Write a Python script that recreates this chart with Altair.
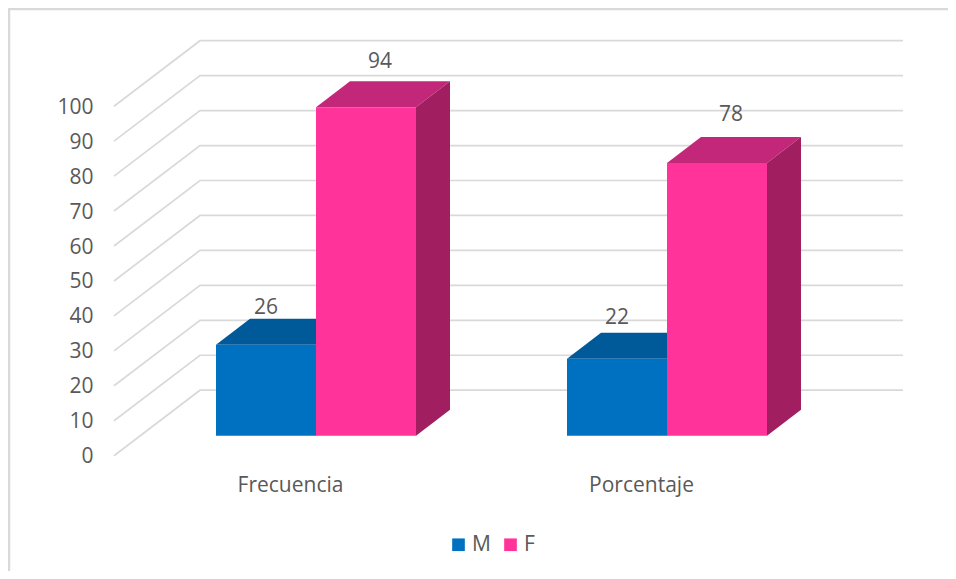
import altair as alt
import pandas as pd

CATEGORIES = ["Frecuencia", "Porcentaje"]
SERIES = ["M", "F"]
M_VALUES = [26, 22]
F_VALUES = [94, 78]
TICKS = [0, 10, 20, 30, 40, 50, 60, 70, 80, 90, 100]

# small gaps between a bar's top and its value label, in axis units
LABEL_LIFT = {"M": [10.4, 11.7], "F": [13.0, 13.7]}
LABEL_SHIFT = {"M": 0, "F": 14}

FONT = "Open Sans"
TEXT = "#595959"
GRID = "#d9d9d9"
FRONT = {"M": "#0070C0", "F": "#FF3399"}
TOP = {"M": "#005A99", "F": "#C2277A"}
SIDE = {"M": "#00497C", "F": "#A11F60"}

W, H = 940, 563
ORIGIN_Y = 447.7
UNIT = 3.495
GROUP_X = [316, 667]
BAR_W = 100
DEPTH_X = 34
DEPTH_V = 26 / UNIT
BASE_V = 20 / UNIT
WALL_V = 65.5 / UNIT
FLOOR_X0, WALL_X0, WALL_X1 = 114, 200, 903

X_SCALE = alt.Scale(domain=[8, 8 + W], range=[0, W], nice=False, zero=False)
Y_SCALE = alt.Scale(domain=[(ORIGIN_Y - H) / UNIT, ORIGIN_Y / UNIT], range=[H, 0], nice=False, zero=False)
Y_AXIS = alt.Axis(
    values=TICKS, domain=False, ticks=False, grid=False, offset=-85, labelPadding=0, title=None,
    labelFont=FONT, labelFontSize=21, labelColor=TEXT, labelOffset=1)

front_rows, top_rows, side_rows, label_rows = [], [], [], []
for c, cat in enumerate(CATEGORIES):
    for s, (name, vals) in enumerate(zip(SERIES, [M_VALUES, F_VALUES])):
        v = vals[c]
        a = GROUP_X[c] + (s - 1) * BAR_W
        b = a + BAR_W
        key = f"{cat}-{name}"
        front_rows.append(dict(series=name, a=a, b=b, lo=BASE_V, hi=BASE_V + v))
        top_v = BASE_V + v
        top_rows += [
            dict(key=key, fill=TOP[name], a=a, b=b, y=top_v),
            dict(key=key, fill=TOP[name], a=a + DEPTH_X, b=b + DEPTH_X, y=top_v + DEPTH_V),
        ]
        side_rows += [
            dict(key=key, fill=SIDE[name], x=b, lo=BASE_V, hi=top_v),
            dict(key=key, fill=SIDE[name], x=b + DEPTH_X, lo=BASE_V + DEPTH_V, hi=top_v + DEPTH_V),
        ]
        label_rows.append(dict(x=(a + b) / 2 + LABEL_SHIFT[name], y=top_v + LABEL_LIFT[name][c], text=str(v)))

grid_rows = []
for t in TICKS:
    grid_rows += [
        dict(tick=t, x=FLOOR_X0, y=t),
        dict(tick=t, x=WALL_X0, y=t + WALL_V),
        dict(tick=t, x=WALL_X1, y=t + WALL_V),
    ]

cat_rows = [dict(x=g - 25.5, y=-8.7, text=c) for g, c in zip(GROUP_X, CATEGORIES)]


def X(f):
    return alt.X(f, type="quantitative", scale=X_SCALE, axis=None)


def Y(f):
    return alt.Y(f, type="quantitative", scale=Y_SCALE, axis=Y_AXIS)


frame_left = alt.Chart(pd.DataFrame({"a": [0]})).mark_rule(color=GRID, strokeWidth=2.5).encode(
    x=alt.value(1), y=alt.value(0), y2=alt.value(H))
frame_top = alt.Chart(pd.DataFrame({"a": [0]})).mark_rule(color=GRID, strokeWidth=2.5).encode(
    y=alt.value(1), x=alt.value(0), x2=alt.value(W))

grid = alt.Chart(pd.DataFrame(grid_rows)).mark_line(color=GRID, strokeWidth=1.7).encode(
    x=X("x"), y=Y("y"), detail="tick:N", order="x:Q")

tops = alt.Chart(pd.DataFrame(top_rows)).mark_area(orient="horizontal").encode(
    x=X("a"), x2="b:Q", y=Y("y"), detail="key:N", fill=alt.Fill("fill:N", scale=None))

sides = alt.Chart(pd.DataFrame(side_rows)).mark_area(orient="vertical").encode(
    x=X("x"), y=Y("lo"), y2="hi:Q", detail="key:N", fill=alt.Fill("fill:N", scale=None))

fronts = alt.Chart(pd.DataFrame(front_rows)).mark_rect().encode(
    x=X("a"), x2="b:Q", y=Y("lo"), y2="hi:Q",
    color=alt.Color("series:N", sort=SERIES,
                    scale=alt.Scale(domain=SERIES, range=[FRONT[s] for s in SERIES]),
                    legend=alt.Legend(title=None, orient="none", legendX=440, legendY=526,
                                      direction="horizontal", symbolType="square", symbolSize=160,
                                      symbolStrokeWidth=0, labelFont=FONT, labelFontSize=21,
                                      labelColor=TEXT, columnPadding=9, labelOffset=3, padding=0)),
)

labels = alt.Chart(pd.DataFrame(label_rows)).mark_text(
    font=FONT, fontSize=21, color=TEXT, baseline="middle", align="center").encode(
    x=X("x"), y=Y("y"), text="text:N")

cats = alt.Chart(pd.DataFrame(cat_rows)).mark_text(
    font=FONT, fontSize=21, color=TEXT, baseline="middle", align="center").encode(
    x=X("x"), y=Y("y"), text="text:N")

chart = alt.layer(frame_left, frame_top, grid, tops, sides, fronts, labels, cats).properties(
    width=W, height=H, padding=0, background="white",
    autosize=alt.AutoSizeParams(type="none"),
).configure_view(stroke=None)

chart.save("out.html", embed_options={"renderer": "svg", "actions": False})
